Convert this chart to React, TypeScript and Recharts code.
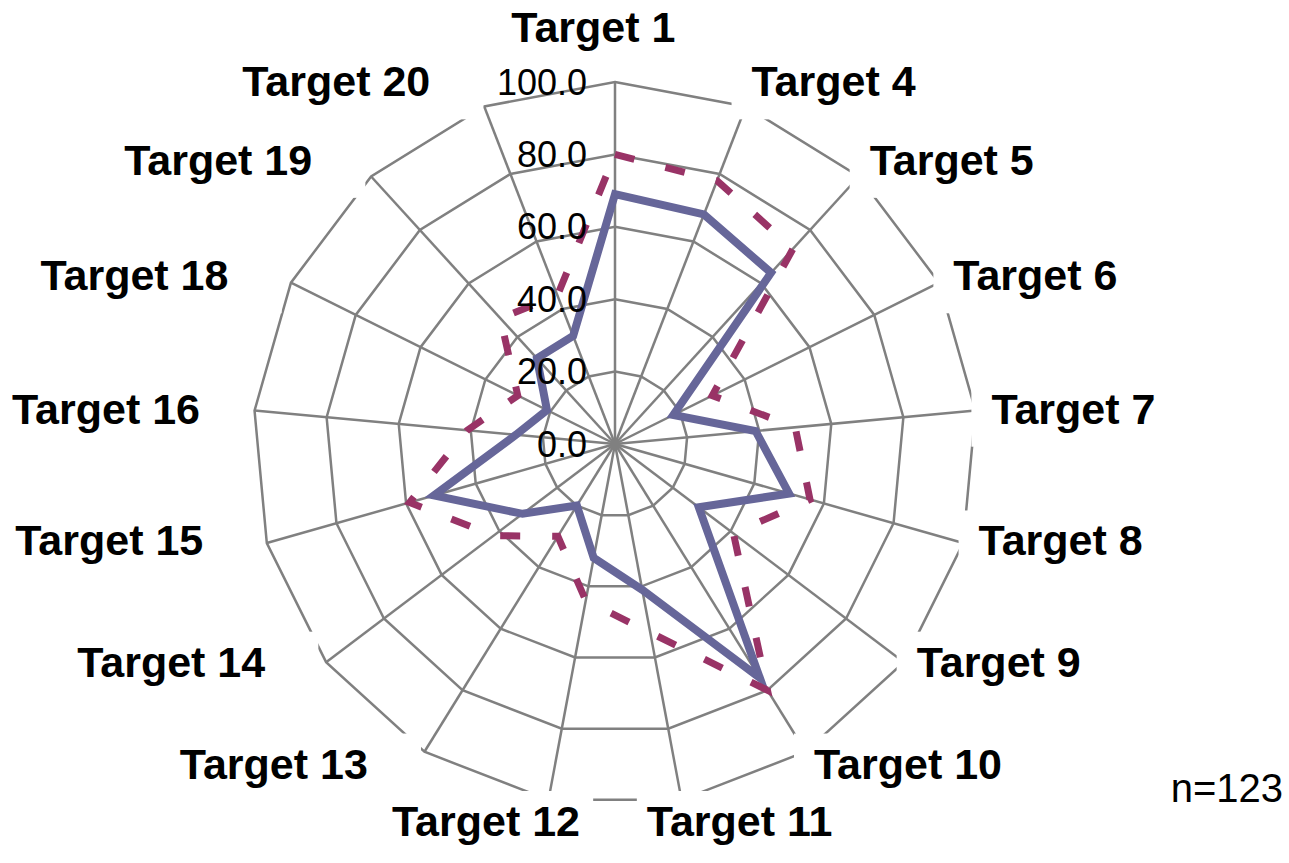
import { RadarChart, Radar, PolarGrid, PolarAngleAxis, PolarRadiusAxis } from 'recharts';

const categories = [
  'Target 1', 'Target 4', 'Target 5', 'Target 6', 'Target 7', 'Target 8',
  'Target 9', 'Target 10', 'Target 11', 'Target 12', 'Target 13', 'Target 14',
  'Target 15', 'Target 16', 'Target 18', 'Target 19', 'Target 20',
];
const scoreSolid = [69, 68, 64, 18, 39, 50, 29, 76, 41, 32, 20, 32, 52, 27.5, 21, 32, 32];
const scoreDashed = [80, 78, 73, 30, 50, 56, 41, 80, 53, 44, 30, 42, 59, 41, 30, 47, 44];
const radiusTicks = [0, 20, 40, 60, 80, 100];
const sampleNote = 'n=123';

const W = 1289;
const H = 863;
const CX = 615;
const CY = 444;
const R = 362;
const FONT = "'Liberation Sans', Arial, Helvetica, sans-serif";
const LABEL_SIZE = 43;

const data = categories.map((name, i) => ({
  name,
  solid: scoreSolid[i],
  dashed: scoreDashed[i],
}));

// category labels sit outside the web, Excel style, with a white box behind them
function AngleTick(props: any) {
  const { x, y, payload } = props;
  const dx = x - CX;
  const dy = y - CY;
  const len = Math.hypot(dx, dy) || 1;
  const s = dx / len;
  const c = -dy / len;
  const label = String(payload.value);
  const digits = label.replace(/\D/g, '').length;
  const tw = LABEL_SIZE * (3.334 + 0.556 * digits);
  const ax = CX + s * (R + 16);
  const reach = c > 0
    ? R + 2 + 25 * c
    : R - 4 + 28 * Math.max(0, (-c - 0.5) / 0.5);
  let yc = CY - 2 - c * reach;
  let left: number;
  let boxL: number;
  let boxR: number;
  if (s > 0.3) {
    left = ax;
    boxL = ax - 20;
    boxR = left + tw + 6;
  } else if (s < -0.3) {
    left = Math.max(12, ax - 45 - tw);
    boxL = left - 6;
    boxR = ax + 5;
  } else {
    left = ax + (s * 3.3 * tw) / 2 - tw / 2;
    boxL = left - 10;
    boxR = left + tw + 10;
  }
  // the top label is lifted clear of the value ticks
  if (Math.abs(s) < 0.1 && c > 0) {
    yc -= 27;
    left -= 20;
    boxL -= 20;
    boxR -= 20;
  }
  const capTop = yc - 15.5;
  return (
    <g>
      <rect x={boxL} y={capTop - 14} width={boxR - boxL} height={68} fill="#fff" />
      <text
        x={left}
        y={yc + 15.5}
        textAnchor="start"
        fontSize={LABEL_SIZE}
        fontWeight="bold"
        fontFamily={FONT}
        fill="#000"
      >
        {label}
      </text>
    </g>
  );
}

function RadiusTick(props: any) {
  const { x, y, payload } = props;
  return (
    <text x={x - 28} y={y + 12.5} textAnchor="end" fontSize={36} fontFamily={FONT} fill="#000">
      {Number(payload.value).toFixed(1)}
    </text>
  );
}

export default function App() {
  return (
    <div style={{ position: 'absolute', left: 0, top: 0, width: W, height: H, background: '#fff' }}>
      <style>{'.recharts-polar-grid line, .recharts-polar-grid path { stroke-width: 2.5px; }'}</style>
      <RadarChart
        width={W}
        height={H}
        data={data}
        cx={CX}
        cy={CY}
        outerRadius={R}
        margin={{ top: 0, right: 0, bottom: 0, left: 0 }}
      >
        <PolarGrid gridType="polygon" stroke="#808080" strokeWidth={2.5} />
        <PolarAngleAxis dataKey="name" tick={AngleTick} axisLine={false} tickLine={false} />
        <PolarRadiusAxis
          angle={90}
          type="number"
          domain={[0, 100]}
          ticks={radiusTicks as any}
          tickCount={radiusTicks.length}
          tick={RadiusTick}
          axisLine={false}
          tickLine={false}
        />
        <Radar
          dataKey="solid"
          stroke="#666699"
          strokeWidth={8}
          fill="none"
          fillOpacity={0}
          dot={false}
          isAnimationActive={false}
        />
        <Radar
          dataKey="dashed"
          stroke="#993366"
          strokeWidth={7}
          strokeDasharray="20 32"
          fill="none"
          fillOpacity={0}
          dot={false}
          isAnimationActive={false}
        />
      </RadarChart>
      <svg width={W} height={H} style={{ position: 'absolute', left: 0, top: 0, pointerEvents: 'none' }}>
        <text x={1283} y={802} textAnchor="end" fontSize={40} fontFamily={FONT} fill="#000">
          {sampleNote}
        </text>
      </svg>
    </div>
  );
}
